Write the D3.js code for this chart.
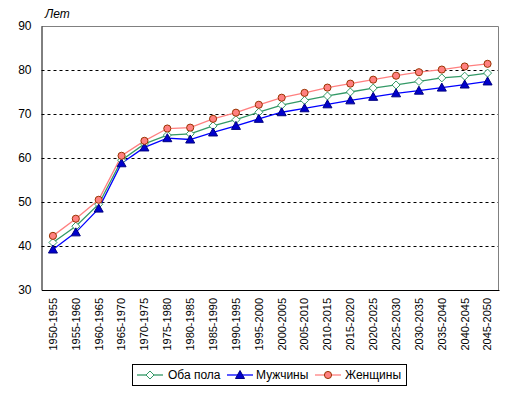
<!DOCTYPE html>
<html>
<head>
<meta charset="utf-8">
<script src="https://cdn.jsdelivr.net/npm/d3@7"></script>
<style>
  body { margin: 0; background: #fff; }
  svg { font-family: "Liberation Sans", Arial, sans-serif; }
</style>
</head>
<body>
<div class="canvas"></div>
<script>
const periods = ['1950-1955', '1955-1960', '1960-1965', '1965-1970', '1970-1975', '1975-1980',
    '1980-1985', '1985-1990', '1990-1995', '1995-2000', '2000-2005', '2005-2010', '2010-2015',
    '2015-2020', '2020-2025', '2025-2030', '2030-2035', '2035-2040', '2040-2045', '2045-2050'];
const both = [40.8, 44.5, 49.5, 59.5, 63.2, 65.2, 65.5, 67.3, 68.7, 70.4, 72.0, 73.1, 74.1, 75.0,
    75.9, 76.6, 77.4, 78.2, 78.6, 79.3];
const men = [39.2, 43.1, 48.5, 58.8, 62.4, 64.5, 64.2, 65.8, 67.3, 68.9, 70.4, 71.3, 72.2, 73.1,
    73.9, 74.7, 75.3, 76.0, 76.7, 77.4];
const women = [42.3, 46.2, 50.5, 60.5, 63.9, 66.7, 66.9, 68.9, 70.3, 72.1, 73.7, 74.8, 76.0, 76.9,
    77.8, 78.7, 79.5, 80.1, 80.8, 81.4];
const yTicks = [30, 40, 50, 60, 70, 80, 90];

const margin = { top: 26, right: 15, bottom: 104, left: 41.5 };
const width = 514, height = 394;
const graphWidth = 499 - margin.left;
const graphHeight = 290 - margin.top;

const svg = d3.select('.canvas')
    .append('svg')
    .attr('width', width)
    .attr('height', height)
;

const graph = svg.append('g')
    .attr('transform', `translate(${margin.left}, ${margin.top})`)
;

// scales
const x = d3.scaleBand().domain(periods).range([ 0, graphWidth ]);
const y = d3.scaleLinear().domain([ 30, 90 ]).range([ graphHeight, 0 ]);
const cx = d => x(d) + x.bandwidth() / 2;

// gridlines
graph.selectAll('.grid')
    .data(yTicks.filter(v => v > 30 && v < 90))
    .enter().append('line')
        .attr('x1', 0).attr('x2', graphWidth)
        .attr('y1', v => Math.round(y(v)) + 0.5).attr('y2', v => Math.round(y(v)) + 0.5)
        .attr('stroke', '#000')
        .attr('stroke-dasharray', '3,3')
;

// top & right border
graph.append('path')
    .attr('d', `M0,0.5H${graphWidth - 0.5}V${graphHeight}`)
    .attr('fill', 'none')
    .attr('stroke', '#808080')
;

// axes
const yAxis = d3.axisLeft(y).tickValues(yTicks).tickSize(0).tickPadding(10);
const yAxisGroup = graph.append('g').call(yAxis);
yAxisGroup.select('.domain').attr('stroke', '#000');
yAxisGroup.selectAll('text')
    .attr('font-size', 12)
    .attr('font-family', '"Liberation Sans", Arial, sans-serif')
    .attr('fill', '#000')
;

const xAxis = d3.axisBottom(x).tickSize(0).tickPadding(7);
const xAxisGroup = graph.append('g')
    .attr('transform', `translate(0, ${graphHeight})`)
    .call(xAxis)
;
xAxisGroup.select('.domain').attr('stroke', '#000');
xAxisGroup.selectAll('text')
    .attr('font-size', 11)
    .attr('font-family', '"Liberation Sans", Arial, sans-serif')
    .attr('fill', '#000')
    .attr('transform', 'rotate(-90)')
    .attr('text-anchor', 'end')
    .attr('dy', '0.35em')
    .attr('x', -8)
    .attr('y', 0)
;

svg.append('text')
    .attr('x', 45)
    .attr('y', 18)
    .attr('font-size', 12)
    .attr('font-style', 'italic')
    .text('Лет')
;

// series
const series = [
    { name: 'Оба пола', values: both, color: '#339966', marker: 'diamond', fill: '#fff', edge: '#339966' },
    { name: 'Мужчины', values: men, color: '#0000ff', marker: 'triangle', fill: '#0000cc', edge: '#000080' },
    { name: 'Женщины', values: women, color: '#ff8080', marker: 'circle', fill: '#ff8080', edge: '#993300' }
];

const markerPath = (type) => {
    if (type === 'diamond') return 'M0,-4L4,0L0,4L-4,0Z';
    if (type === 'triangle') return 'M0,-4.5L4.5,3.5L-4.5,3.5Z';
    return d3.symbol(d3.symbolCircle, 40)();
};

const line = d3.line()
    .x((d, i) => cx(periods[i]))
    .y(d => y(d))
;

series.forEach(s => {
    graph.append('path')
        .datum(s.values)
        .attr('fill', 'none')
        .attr('stroke', s.color)
        .attr('stroke-width', 1.3)
        .attr('d', line)
    ;
});
series.forEach(s => {
    graph.selectAll(null)
        .data(s.values)
        .enter().append('path')
            .attr('transform', (d, i) => `translate(${cx(periods[i])}, ${y(d)})`)
            .attr('d', markerPath(s.marker))
            .attr('fill', s.fill)
            .attr('stroke', s.edge)
            .attr('stroke-width', 1)
    ;
});

// legend
const legend = svg.append('g');
legend.append('rect')
    .attr('x', 132.5).attr('y', 364.5)
    .attr('width', 274).attr('height', 21)
    .attr('fill', '#fff')
    .attr('stroke', '#000')
;
const legendX = [137, 227, 315];
series.forEach((s, i) => {
    const g = legend.append('g').attr('transform', `translate(${legendX[i]}, 375)`);
    g.append('line')
        .attr('x1', 0).attr('x2', 26)
        .attr('stroke', s.color)
        .attr('stroke-width', 1.3)
    ;
    g.append('path')
        .attr('transform', 'translate(13, 0)')
        .attr('d', markerPath(s.marker))
        .attr('fill', s.fill)
        .attr('stroke', s.edge)
    ;
    g.append('text')
        .attr('x', i === 0 ? 31 : (i === 1 ? 29 : 30))
        .attr('dy', '0.35em')
        .attr('font-size', 12)
        .text(s.name)
    ;
});
</script>
</body>
</html>
